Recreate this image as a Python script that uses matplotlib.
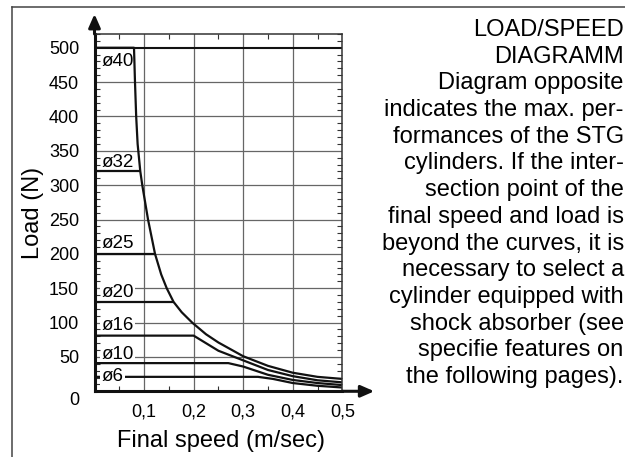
import matplotlib.pyplot as plt
from matplotlib.lines import Line2D
from matplotlib.ticker import MultipleLocator

plt.rcParams['font.family'] = ['Liberation Sans', 'DejaVu Sans']

# axis ticks
speed_ticks = [0.1, 0.2, 0.3, 0.4, 0.5]
speed_tick_labels = ['0,1', '0,2', '0,3', '0,4', '0,5']
load_ticks = [50, 100, 150, 200, 250, 300, 350, 400, 450, 500]

# envelope curve (ø40)
d40_speed = [0, 0.0797, 0.0817, 0.0841, 0.0870, 0.0924, 0.0964, 0.1080, 0.1221, 0.1346,
             0.1457, 0.1596, 0.176, 0.197, 0.225, 0.25, 0.3, 0.35, 0.4, 0.45, 0.5]
d40_load = [500, 500, 450, 400, 360, 320, 300, 250, 200, 170,
            150, 130, 115, 100, 83, 71, 51, 37, 27, 21, 18]

# bores that stop on the envelope
d32_speed = [0, 0.0924]
d32_load = [320, 320]
d25_speed = [0, 0.1221]
d25_load = [200, 200]
d20_speed = [0, 0.1596]
d20_load = [130, 130]

# bores with their own curve
d16_speed = [0, 0.2, 0.225, 0.25, 0.3, 0.35, 0.4, 0.45, 0.5]
d16_load = [81, 81, 70, 59, 45, 31, 22, 16, 13]
d10_speed = [0, 0.27, 0.3, 0.35, 0.4, 0.45, 0.5]
d10_load = [41, 41, 36, 24, 16.5, 12, 9]
d6_speed = [0, 0.33, 0.36, 0.4, 0.45, 0.5]
d6_load = [21, 21, 18, 12, 8, 5.5]

bore_labels = ['ø40', 'ø32', 'ø25', 'ø20', 'ø16', 'ø10', 'ø6']
label_y = [480, 333, 215, 144, 95.5, 54, 22]

note_lines = [
    'LOAD/SPEED',
    'DIAGRAMM',
    'Diagram opposite',
    'indicates the max. per-',
    'formances of the STG',
    'cylinders. If the inter-',
    'section point of the',
    'final speed and load is',
    'beyond the curves, it is',
    'necessary to select a',
    'cylinder equipped with',
    'shock absorber (see',
    'specifie features on',
    'the following pages).',
]

fig = plt.figure(figsize=(6.25, 4.57), dpi=100)
ax = fig.add_axes([0.1512, 0.1438, 0.3965, 0.7818])

ax.set_xlim(0, 0.5)
ax.set_ylim(0, 520)

# grid
for s in speed_ticks[:-1]:
    ax.axvline(s, color='#666666', lw=0.9, zorder=0.5)
for l in load_ticks[:-1]:
    ax.axhline(l, color='#666666', lw=0.9, zorder=0.5)
ax.axhline(load_ticks[-1], color='#111111', lw=1.5, zorder=0.5)

curves = [(d40_speed, d40_load), (d32_speed, d32_load), (d25_speed, d25_load),
          (d20_speed, d20_load), (d16_speed, d16_load), (d10_speed, d10_load),
          (d6_speed, d6_load)]
for sp, ld in curves:
    ax.plot(sp, ld, color='#111111', lw=1.6, zorder=2, solid_capstyle='butt',
            solid_joinstyle='round')

# labels hide the grid; only the ø6 label sits on its own line
for name, y in zip(bore_labels, label_y):
    z = 3 if name == 'ø6' else 1
    ax.text(0.0145, y, name, fontsize=13.5, ha='left', va='center', zorder=z,
            bbox=dict(fc='white', ec='none', pad=1.0))

# ticks
ax.set_xticks(speed_ticks)
ax.set_xticklabels(speed_tick_labels)
ax.set_yticks(load_ticks)
ax.xaxis.set_minor_locator(MultipleLocator(0.05))
ax.yaxis.set_minor_locator(MultipleLocator(10))
ax.xaxis.set_ticks_position('both')
ax.yaxis.set_ticks_position('both')
ax.tick_params(which='major', length=0, labelsize=13)
ax.tick_params(axis='y', which='major', pad=11)
ax.tick_params(axis='x', which='major', pad=8.5)
ax.tick_params(which='minor', direction='in', length=3.6, width=0.8, color='#333333')
ax.annotate('0', xy=(0, 0), xycoords=('axes fraction', 'data'), xytext=(-11, -6.5),
            textcoords='offset points', ha='right', va='center', fontsize=13)

for side in ['left', 'bottom']:
    ax.spines[side].set_linewidth(2.2)
    ax.spines[side].set_color('#111111')
for side in ['top', 'right']:
    ax.spines[side].set_linewidth(1.1)
    ax.spines[side].set_color('#333333')

# axis arrows
ax.annotate('', xy=(0, 1.056), xytext=(0, 1), xycoords='axes fraction',
            arrowprops=dict(arrowstyle='-|>,head_length=0.8,head_width=0.35',
                            mutation_scale=10, lw=2.2, color='#111111', shrinkA=0, shrinkB=0))
ax.annotate('', xy=(1.129, 0), xytext=(1, 0), xycoords='axes fraction',
            arrowprops=dict(arrowstyle='-|>,head_length=0.8,head_width=0.35',
                            mutation_scale=10, lw=2.2, color='#111111', shrinkA=0, shrinkB=0))

# axis titles
fig.text(0.3536, 0.0212, 'Final speed (m/sec)', fontsize=17, ha='center', va='baseline')
fig.text(0.0629, 0.535, 'Load (N)', fontsize=17, rotation=90, rotation_mode='anchor',
         ha='center', va='baseline')

# note on the right
for i, line in enumerate(note_lines):
    fig.text(0.998, 1 - (36 + i * 26.7) / 457, line, fontsize=17, ha='right', va='baseline')

# outer frame
fig.add_artist(Line2D([12 / 625, 1], [1 - 7 / 457, 1 - 7 / 457], transform=fig.transFigure,
                      color='#444444', lw=1.1))
fig.add_artist(Line2D([12 / 625, 12 / 625], [0, 1 - 7 / 457], transform=fig.transFigure,
                      color='#444444', lw=1.1))

fig.savefig('out.png', dpi=100)
